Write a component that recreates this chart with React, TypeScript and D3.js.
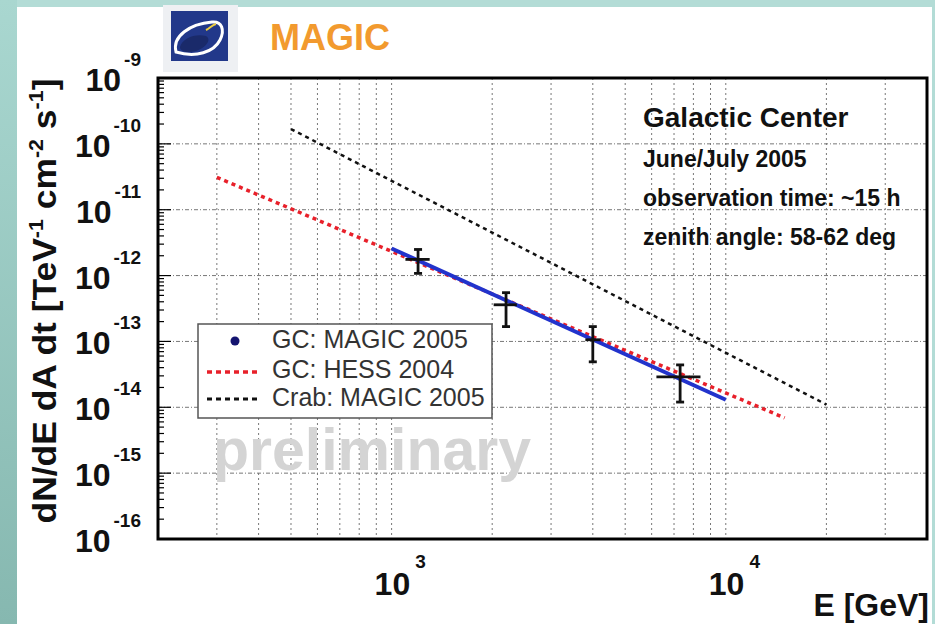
import React from "react";
import * as d3 from "d3";

// ---------- data ----------
const magicE = [1200, 2200, 4000, 7300];
const magicELo = [1100, 2020, 3800, 6200];
const magicEHi = [1300, 2370, 4220, 8400];
const magicFlux = [1.76e-12, 3.6e-13, 1.06e-13, 2.9e-14];
const magicFluxLo = [1.08e-12, 1.68e-13, 4.9e-14, 1.2e-14];
const magicFluxHi = [2.49e-12, 5.5e-13, 1.68e-13, 4.4e-14];

const fitE = [1000, 10000];
const fitFlux = [2.58e-12, 1.3e-14];

const hessE = [300, 15000];
const hessFlux = [3.1e-11, 6.9e-15];

const crabE = [500, 20000];
const crabFlux = [1.68e-10, 1.1e-14];

const xTickExps = [3, 4];
const yTickExps = [-9, -10, -11, -12, -13, -14, -15, -16];

const legendLabels = ["GC: MAGIC 2005", "GC: HESS 2004", "Crab: MAGIC 2005"];
const infoLines = [
  "June/July 2005",
  "observation time: ~15 h",
  "zenith angle: 58-62 deg",
];

const W = 935;
const H = 624;
const FONT = "'Liberation Sans', Arial, Helvetica, sans-serif";

export default function App() {
  const left = 158;
  const right = 927;
  const top = 78;
  const bottom = 539;

  const x = d3.scaleLog().domain([200, 40000]).range([left, right]);
  const y = d3.scaleLog().domain([1e-16, 1e-9]).range([bottom, top]);

  const line = d3
    .line<[number, number]>()
    .x((d) => x(d[0]))
    .y((d) => y(d[1]));

  const pairs = (a: number[], b: number[]) =>
    a.map((v, i) => [v, b[i]] as [number, number]);

  const xGrid: number[] = [];
  for (let e = 2; e <= 4; e++) {
    for (let k = 1; k <= 9; k++) {
      const v = k * Math.pow(10, e);
      if (v > 200 && v < 40000) xGrid.push(v);
    }
  }
  const yGrid: number[] = [];
  for (let e = -15; e <= -10; e++) yGrid.push(Math.pow(10, e));

  const yTicks: { v: number; len: number }[] = [];
  for (let e = -16; e <= -10; e++) {
    for (let k = 1; k <= 9; k++) {
      yTicks.push({ v: k * Math.pow(10, e), len: k === 1 ? 13 : 6 });
    }
  }
  yTicks.push({ v: 1e-9, len: 13 });

  return (
    <svg
      width={W}
      height={H}
      style={{ position: "absolute", left: 0, top: 0 }}
      fontFamily={FONT}
    >
      <defs>
        <linearGradient id="leftStrip" x1="0" y1="0" x2="0" y2="1">
          <stop offset="0" stopColor="#a9d7d0" />
          <stop offset="1" stopColor="#86b8b0" />
        </linearGradient>
      </defs>
      {/* background */}
      <rect x={0} y={0} width={W} height={H} fill="#b3dcd6" />
      <rect x={0} y={0} width={17} height={H} fill="url(#leftStrip)" />
      <rect x={17} y={7} width={915} height={H - 7} fill="#ffffff" />

      {/* logo */}
      <rect x={163} y={5} width={75} height={67} fill="#eef0f3" />
      <rect x={171} y={11} width={57} height={50} fill="#22388a" />
      <path
        d="M176,52 C172,36 190,24 212,22 C222,21 225,30 220,40 C214,52 196,58 176,52 Z"
        fill="none"
        stroke="#ffffff"
        strokeWidth={3}
      />
      <path
        d="M180,47 C182,38 196,33 206,36 C212,39 206,48 196,51 C188,53 180,52 180,47 Z"
        fill="#1a2a6a"
      />
      <path d="M206,30 C210,28 212,25 216,24" stroke="#f0d040" strokeWidth={2} fill="none" />
      <text x={270} y={50} fontSize={36} fontWeight="bold" fill="#f29a2e">
        MAGIC
      </text>

      {/* grid */}
      {xGrid.map((v, i) => (
        <line
          key={"xg" + i}
          x1={x(v)}
          x2={x(v)}
          y1={top}
          y2={bottom}
          stroke="#777"
          strokeWidth={1}
          strokeDasharray="2,3"
        />
      ))}
      {yGrid.map((v, i) => (
        <line
          key={"yg" + i}
          x1={left}
          x2={right}
          y1={y(v)}
          y2={y(v)}
          stroke="#777"
          strokeWidth={1}
          strokeDasharray="4,2,1,2"
        />
      ))}

      {/* preliminary watermark */}
      <text x={213} y={470} fontSize={59} fontWeight="bold" fill="#d4d4d4">
        preliminary
      </text>

      {/* Crab */}
      <path
        d={line(pairs(crabE, crabFlux)) || ""}
        fill="none"
        stroke="#111111"
        strokeWidth={2.5}
        strokeDasharray="4,4"
      />
      {/* HESS */}
      <path
        d={line(pairs(hessE, hessFlux)) || ""}
        fill="none"
        stroke="#e8202a"
        strokeWidth={3.5}
        strokeDasharray="4,4"
      />
      {/* MAGIC fit */}
      <path
        d={line(pairs(fitE, fitFlux)) || ""}
        fill="none"
        stroke="#2233cc"
        strokeWidth={4}
      />

      {/* MAGIC points with error bars */}
      {magicE.map((e, i) => {
        const cx = x(e);
        const cy = y(magicFlux[i]);
        const yl = y(magicFluxLo[i]);
        const yh = y(magicFluxHi[i]);
        return (
          <g key={"pt" + i} stroke="#111111" strokeWidth={2.8}>
            <line x1={x(magicELo[i])} x2={x(magicEHi[i])} y1={cy} y2={cy} />
            <line x1={cx} x2={cx} y1={yh} y2={yl} />
            <line x1={cx - 4} x2={cx + 4} y1={yh} y2={yh} />
            <line x1={cx - 4} x2={cx + 4} y1={yl} y2={yl} />
          </g>
        );
      })}

      {/* frame */}
      <rect
        x={left}
        y={top}
        width={right - left}
        height={bottom - top}
        fill="none"
        stroke="#000"
        strokeWidth={3}
      />
      {yTicks.map((t, i) => (
        <line
          key={"yt" + i}
          x1={left}
          x2={left + t.len}
          y1={y(t.v)}
          y2={y(t.v)}
          stroke="#000"
          strokeWidth={1.2}
        />
      ))}

      {/* y tick labels */}
      {yTickExps.map((e) => (
        <text
          key={"yl" + e}
          x={141}
          y={y(Math.pow(10, e)) + 13}
          textAnchor="end"
          fontSize={32}
          fontWeight="bold"
          fill="#111"
        >
          10
          <tspan dx={3} dy={-25} fontSize={19}>
            {String(e)}
          </tspan>
        </text>
      ))}

      {/* x tick labels */}
      {xTickExps.map((e) => (
        <text
          key={"xl" + e}
          x={x(Math.pow(10, e)) - 17}
          y={595}
          fontSize={32}
          fontWeight="bold"
          fill="#111"
        >
          10
          <tspan dx={5} dy={-27} fontSize={19}>
            {String(e)}
          </tspan>
        </text>
      ))}

      {/* axis titles */}
      <text
        x={929}
        y={616}
        textAnchor="end"
        fontSize={32}
        fontWeight="bold"
        fill="#111"
      >
        E [GeV]
      </text>
      <text
        transform="translate(56,301) rotate(-90)"
        textAnchor="middle"
        fontSize={33}
        fontWeight="bold"
        fill="#111"
        textLength={445}
        lengthAdjust="spacingAndGlyphs"
      >
        dN/dE dA dt [TeV
        <tspan dy={-13} fontSize={20}>-1</tspan>
        <tspan dy={13}> cm</tspan>
        <tspan dy={-13} fontSize={20}>-2</tspan>
        <tspan dy={13}> s</tspan>
        <tspan dy={-13} fontSize={20}>-1</tspan>
        <tspan dy={13}>]</tspan>
      </text>

      {/* info text */}
      <text x={643} y={127} fontSize={28} fontWeight="bold" fill="#111">
        Galactic Center
      </text>
      {infoLines.map((s, i) => (
        <text
          key={"info" + i}
          x={643}
          y={167 + i * 39}
          fontSize={23}
          fontWeight="bold"
          fill="#111"
        >
          {s}
        </text>
      ))}

      {/* legend */}
      <rect
        x={198}
        y={324}
        width={294}
        height={94}
        fill="#ffffff"
        stroke="#555"
        strokeWidth={1.5}
      />
      <circle cx={235} cy={341} r={4.5} fill="#141470" />
      <line x1={207} x2={258} y1={372} y2={372} stroke="#e8202a" strokeWidth={3.5} strokeDasharray="5,4" />
      <line x1={207} x2={258} y1={399} y2={399} stroke="#111" strokeWidth={3} strokeDasharray="5,4" />
      {legendLabels.map((s, i) => (
        <text key={"lg" + i} x={272} y={[348, 378, 406][i]} fontSize={25} fill="#333">
          {s}
        </text>
      ))}
    </svg>
  );
}
